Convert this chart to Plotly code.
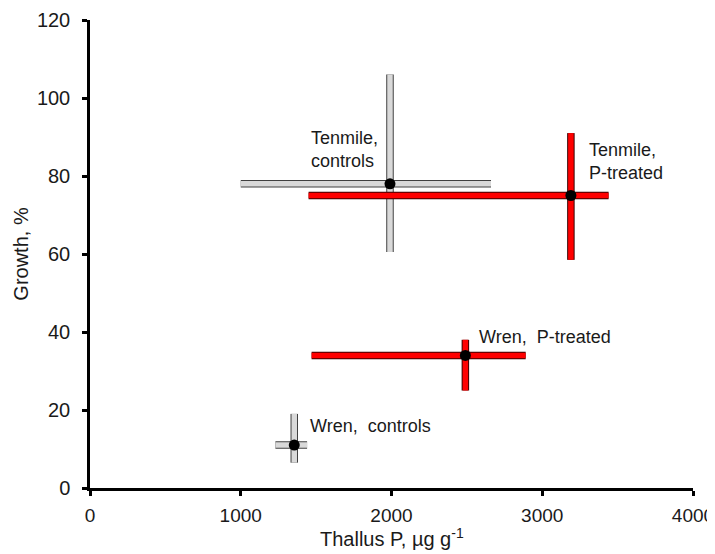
import plotly.graph_objects as go

# Data
groups = ["Tenmile, controls", "Tenmile, P-treated", "Wren, P-treated", "Wren, controls"]
treatment = ["control", "P", "P", "control"]
thallus_p = [1990, 3190, 2490, 1355]
growth = [78, 75, 34, 11]
thallus_p_low = [1000, 1450, 1470, 1230]
thallus_p_high = [2660, 3440, 2890, 1440]
growth_low = [60.5, 58.5, 25, 6.5]
growth_high = [106, 91, 38, 19]

label_text = ["Tenmile,<br>controls", "Tenmile,<br>P-treated", "Wren,  P-treated", "Wren,  controls"]
label_x = [1455, 3294, 2565, 1449]
label_y = [86.7, 83.8, 38.8, 15.9]

x_ticks = [0, 1000, 2000, 3000, 4000]
y_ticks = [0, 20, 40, 60, 80, 100, 120]
x_title = "Thallus P, µg g<sup>-1</sup>"
y_title = "Growth, %"

styles = {
    "control": {"fill": "#d9d9d9", "edge": "#404040"},
    "P": {"fill": "#ff0000", "edge": "#3a0000"},
}

fig = go.Figure()

for kind in ["control", "P"]:
    idx = [i for i, t in enumerate(treatment) if t == kind]
    xs = [thallus_p[i] for i in idx]
    ys = [growth[i] for i in idx]
    ex_p = [thallus_p_high[i] - thallus_p[i] for i in idx]
    ex_m = [thallus_p[i] - thallus_p_low[i] for i in idx]
    ey_p = [growth_high[i] - growth[i] for i in idx]
    ey_m = [growth[i] - growth_low[i] for i in idx]
    for color, thick in [(styles[kind]["edge"], 7.5), (styles[kind]["fill"], 5.5)]:
        fig.add_trace(go.Scatter(
            x=xs, y=ys, mode="markers",
            marker=dict(size=1, color="rgba(0,0,0,0)"),
            error_x=dict(type="data", symmetric=False, array=ex_p, arrayminus=ex_m,
                         color=color, thickness=thick, width=0),
            error_y=dict(type="data", symmetric=False, array=ey_p, arrayminus=ey_m,
                         color=color, thickness=thick, width=0),
            showlegend=False, hoverinfo="skip",
        ))

fig.add_trace(go.Scatter(
    x=thallus_p, y=growth, mode="markers",
    marker=dict(size=11, color="#000000"),
    text=groups, showlegend=False,
))

for t, lx, ly in zip(label_text, label_x, label_y):
    fig.add_annotation(x=lx, y=ly, text=t, showarrow=False, xanchor="left",
                       yanchor="middle", align="left",
                       font=dict(size=18, color="#1a1a1a"))

# x-axis title as a paper-anchored text, placed just below the tick labels
fig.add_annotation(x=0.5, y=0, xref="paper", yref="paper", text=x_title,
                   showarrow=False, xanchor="center", yanchor="middle", yshift=-49,
                   font=dict(size=20, color="#1a1a1a"))

font_family = "Liberation Sans, Arial, sans-serif"
fig.update_layout(
    width=715, height=546,
    margin=dict(l=82, r=30, t=12, b=66),
    paper_bgcolor="white", plot_bgcolor="white",
    font=dict(family=font_family, size=20, color="#1a1a1a"),
    xaxis=dict(range=[0, 4000], tickvals=x_ticks, showgrid=False, zeroline=False,
               showline=True, linecolor="black", linewidth=2.5, automargin=False,
               ticks="outside", ticklen=5, tickwidth=2.5, tickcolor="black",
               tickfont=dict(size=19),
               ticklabelstandoff=3, ticklabeloverflow="allow"),
    yaxis=dict(range=[0, 120], tickvals=y_ticks, showgrid=False, zeroline=False,
               showline=True, linecolor="black", linewidth=2.5, automargin=False,
               ticks="outside", ticklen=5, tickwidth=2.5, tickcolor="black",
               ticklabelstandoff=8,
               title=dict(text=y_title, font=dict(size=20), standoff=3)),
)

fig.write_html("out.html")
